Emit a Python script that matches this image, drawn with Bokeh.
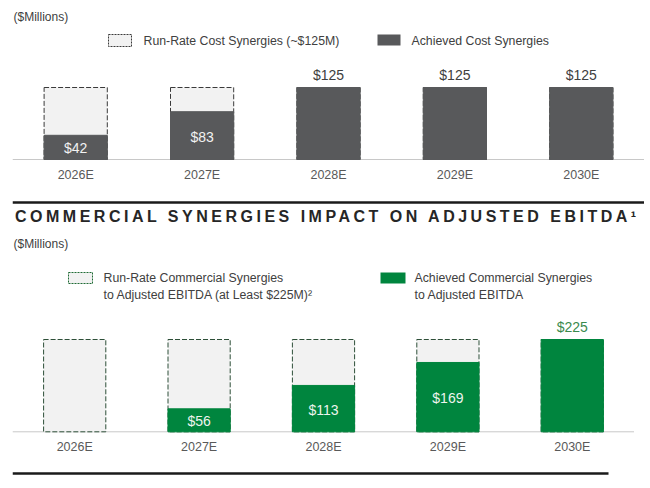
from bokeh.plotting import figure
from bokeh.models import ColumnDataSource, FactorRange, Range1d, Label, Div
from bokeh.layouts import column
from bokeh.embed import file_html
from bokeh.resources import INLINE
from bokeh.core.properties import value

# ---------------- data ----------------
years = ["2026E", "2027E", "2028E", "2029E", "2030E"]
cost_run_rate = [125, 125, 125, 125, 125]
cost_achieved = [42, 83, 125, 125, 125]
comm_run_rate = [225, 225, 225, 225, 225]
comm_achieved = [0, 56, 113, 169, 225]

unit_label = "($Millions)"
cost_legend = ["Run-Rate Cost Synergies (~$125M)", "Achieved Cost Synergies"]
comm_title = "COMMERCIAL SYNERGIES IMPACT ON ADJUSTED EBITDA\u00b9"
comm_legend_run = ["Run-Rate Commercial Synergies", "to Adjusted EBITDA (at Least $225M)\u00b2"]
comm_legend_ach = ["Achieved Commercial Synergies", "to Adjusted EBITDA"]

FONT = "Liberation Sans"


def make_panel(h, top_ref, frame_right_ref, base_ref, ppu, run, ach,
               bar_color, edge_color, above_color, inner_color):
    # frame spans from x=12 to frame_right_ref; figure ends at the frame's right edge
    step = (frame_right_ref - 12) / len(years)
    sx = lambda px: (px - 12) / step
    sy = lambda py: (base_ref - py) / ppu
    p = figure(width=frame_right_ref, height=h, output_backend="svg", toolbar_location=None,
               x_range=FactorRange(*years, range_padding=0),
               y_range=Range1d(sy(top_ref + h), sy(top_ref)),
               x_axis_location=None, y_axis_location=None,
               min_border_left=12, min_border_right=0,
               min_border_top=0, min_border_bottom=0)
    p.grid.visible = False
    p.outline_line_color = None
    p.background_fill_color = "white"
    p.border_fill_color = "white"

    # baseline
    p.segment(x0=[0], x1=[len(years)], y0=[0], y1=[0], line_color="#c8c8c8", line_width=1)
    # run-rate boxes
    p.vbar(x=years, top=run, bottom=0, width=0.5, fill_color="#f2f2f2",
           line_color=edge_color, line_dash="5 2", line_width=1)
    # achieved bars
    src_a = ColumnDataSource(dict(x=years, top=ach,
                                  la=[1 if a > 0 else 0 for a in ach]))
    p.vbar(x="x", top="top", bottom=0, width=0.5, source=src_a, fill_color=bar_color,
           line_color=bar_color, line_alpha="la", line_width=1)

    # value labels
    ins = [(y, a) for y, a, r in zip(years, ach, run) if 0 < a < r]
    abv = [(y, a) for y, a, r in zip(years, ach, run) if a >= r]
    if ins:
        src = ColumnDataSource(dict(x=[i[0] for i in ins], y=[i[1] / 2 for i in ins],
                                    t=["$%d" % i[1] for i in ins]))
        p.text(x="x", y="y", text="t", source=src, text_align="center", text_baseline="middle",
               text_font=value(FONT), text_font_size="14px", text_color=inner_color, y_offset=1)
    if abv:
        src = ColumnDataSource(dict(x=[i[0] for i in abv], y=[i[1] for i in abv],
                                    t=["$%d" % i[1] for i in abv]))
        p.text(x="x", y="y", text="t", source=src, text_align="center", text_baseline="middle",
               text_font=value(FONT), text_font_size="14px", text_color=above_color, y_offset=-12.5)
    # category labels
    p.text(x=years, y=[sy(base_ref + 15.5)] * len(years), text=years, text_align="center",
           text_baseline="middle", text_font=value(FONT), text_font_size="12.5px",
           text_color="#595959")
    return p, sx, sy


def lab(p, x, y, text, size="12.3px", color="#404040"):
    p.add_layout(Label(x=x, y=y, text=text, text_font=FONT, text_font_size=size,
                       text_color=color, text_baseline="middle", text_align="left"))


# ---------------- top panel: cost synergies ----------------
p1, sx1, sy1 = make_panel(204, 0, 644, 159, 72 / 125, cost_run_rate, cost_achieved,
                          "#58595b", "#3a3a3a", "#404040", "#f2f2f2")
lab(p1, sx1(13), sy1(16), unit_label, "12px")
p1.quad(left=[sx1(108)], right=[sx1(131)], top=[sy1(34)], bottom=[sy1(46)],
        fill_color="#f2f2f2", line_color="#3a3a3a", line_dash="2 1", line_width=1)
lab(p1, sx1(143), sy1(40), cost_legend[0])
p1.quad(left=[sx1(377)], right=[sx1(400)], top=[sy1(34)], bottom=[sy1(45)],
        fill_color="#58595b", line_color=None)
lab(p1, sx1(411), sy1(40), cost_legend[1])
# section divider
p1.segment(x0=[sx1(12)], x1=[sx1(644)], y0=[sy1(202)], y1=[sy1(202)],
           line_color="#1a1a1a", line_width=2.5)

# ---------------- title ----------------
title_div = Div(
    text='<div style="font-family:\'Liberation Sans\';font-weight:bold;font-size:16px;'
         'letter-spacing:3.5px;color:#262626;line-height:26px;padding-left:15px;'
         'white-space:nowrap">' + comm_title + '</div>',
    width=644, height=26, margin=0)

# ---------------- bottom panel: commercial synergies ----------------
p2, sx2, sy2 = make_panel(246, 230, 634, 431.3, 92.3 / 225, comm_run_rate, comm_achieved,
                          "#00853e", "#2d4f38", "#3a8a4c", "#eef4ee")
lab(p2, sx2(13), sy2(243), unit_label, "12px")
p2.quad(left=[sx2(68)], right=[sx2(92)], top=[sy2(272)], bottom=[sy2(283)],
        fill_color="#f2f2f2", line_color="#1f6b35", line_dash="2 1", line_width=1)
lab(p2, sx2(103), sy2(277), comm_legend_run[0])
lab(p2, sx2(103), sy2(294), comm_legend_run[1])
p2.quad(left=[sx2(380)], right=[sx2(405)], top=[sy2(272)], bottom=[sy2(283)],
        fill_color="#00853e", line_color=None)
lab(p2, sx2(414), sy2(277), comm_legend_ach[0])
lab(p2, sx2(414), sy2(294), comm_legend_ach[1])
p2.segment(x0=[sx2(12)], x1=[sx2(608)], y0=[sy2(473)], y1=[sy2(473)],
           line_color="#1a1a1a", line_width=2.5)

layout = column(p1, title_div, p2, spacing=0)
open("out.html", "w").write(file_html(layout, INLINE))
